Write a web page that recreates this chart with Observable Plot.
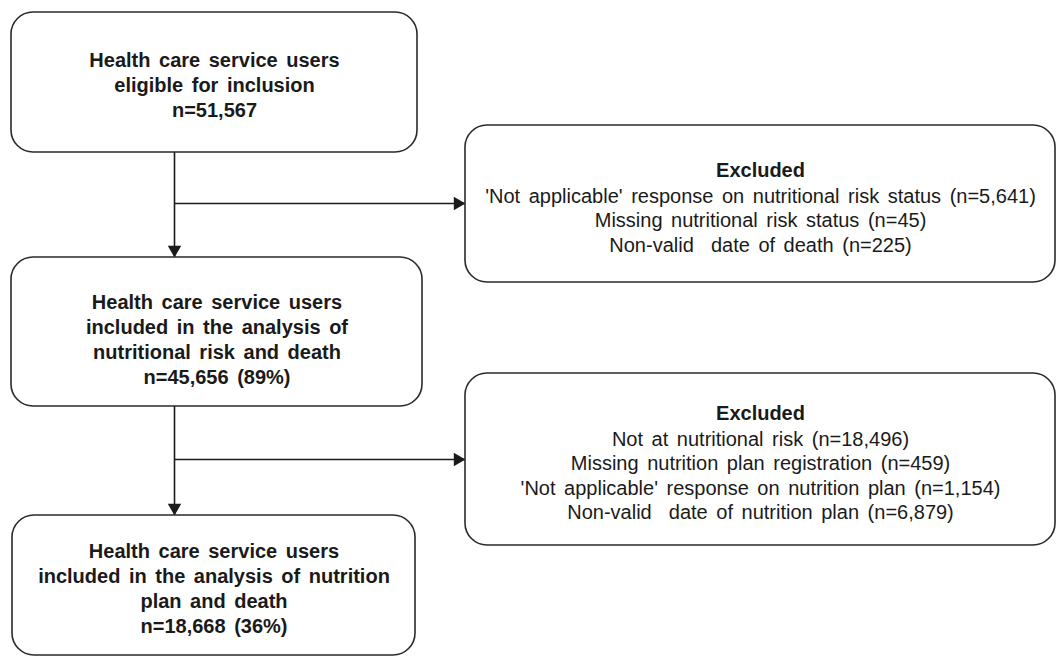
<!DOCTYPE html>
<html>
<head>
<meta charset="utf-8">
<script src="https://cdn.jsdelivr.net/npm/d3@7"></script>
<script src="https://cdn.jsdelivr.net/npm/@observablehq/plot@0.6"></script>
<style>
  html, body { margin: 0; padding: 0; background: #fff; }
  #chart svg text { word-spacing: 3px; white-space: pre; }
</style>
</head>
<body>
<div id="chart"></div>
<script>
// ---------- DATA ----------
const stageLabels = [
  "Health care service users\neligible for inclusion",
  "Health care service users\nincluded in the analysis of\nnutritional risk and death",
  "Health care service users\nincluded in the analysis of nutrition\nplan and death"
];
const stageCounts = [51567, 45656, 18668];
const stagePercents = [null, 89, 36];

const excludedTitle = "Excluded";
const exclusionReasons1 = [
  "'Not applicable' response on nutritional risk status",
  "Missing nutritional risk status",
  "Non-valid  date of death"
];
const exclusionCounts1 = [5641, 45, 225];
const exclusionReasons2 = [
  "Not at nutritional risk",
  "Missing nutrition plan registration",
  "'Not applicable' response on nutrition plan",
  "Non-valid  date of nutrition plan"
];
const exclusionCounts2 = [18496, 459, 1154, 6879];

// ---------- LAYOUT (diagram geometry, pixel space) ----------
const W = 1058, H = 658;
const stageBoxes = [
  {x1: 11, x2: 417, y1: 12, y2: 152, ty: 1},
  {x1: 11, x2: 422, y1: 257, y2: 406, ty: 6},
  {x1: 12, x2: 415, y1: 515, y2: 655, ty: 2}
];
const excludedBoxes = [
  {x1: 465, x2: 1055, y1: 125, y2: 282},
  {x1: 465, x2: 1055, y1: 373, y2: 545}
];
const trunkX = 174;
const branchY = [203, 459];

// ---------- BUILD ----------
const fmt = d3.format(",");
const stageText = stageLabels.map((l, i) =>
  l + "\nn=" + fmt(stageCounts[i]) + (stagePercents[i] != null ? " (" + stagePercents[i] + "%)" : ""));
const stages = stageBoxes.map((b, i) => ({...b, cx: (b.x1 + b.x2) / 2, cy: (b.y1 + b.y2) / 2 + b.ty, text: stageText[i]}));

const reasonsAll = [
  exclusionReasons1.map((r, i) => r + " (n=" + fmt(exclusionCounts1[i]) + ")"),
  exclusionReasons2.map((r, i) => r + " (n=" + fmt(exclusionCounts2[i]) + ")")
];
const LH = 24.5;
const excl = excludedBoxes.map((b, i) => {
  const k = reasonsAll[i].length;
  const n = k + 1;
  const cy = (b.y1 + b.y2) / 2 + 3;
  const first = cy - (n - 1) / 2 * LH;
  return {...b, cx: (b.x1 + b.x2) / 2, titleY: first, bodyY: first + LH + (k - 1) / 2 * LH, body: reasonsAll[i].join("\n")};
});

// connectors
const verticals = [0, 1].map(i => ({x: trunkX, y1: stageBoxes[i].y2, y2: stageBoxes[i + 1].y1}));
const horizontals = [0, 1].map(i => ({y: branchY[i], x1: trunkX + 1, x2: excludedBoxes[i].x1}));
const downHeads = verticals.map(v => ({x: v.x, y: v.y2}));
const rightHeads = horizontals.map(h => ({x: h.x2, y: h.y}));

const font = "Liberation Sans, Arial, Helvetica, sans-serif";
const ink = "#1a1a1a";
const tipOffset = 7.8;

const chart = Plot.plot({
  width: W,
  height: H,
  margin: 0,
  x: {domain: [0, W], range: [0, W], axis: null},
  y: {domain: [0, H], range: [0, H], axis: null},
  style: {background: "#fff"},
  marks: [
    Plot.ruleX(verticals, {x: "x", y1: "y1", y2: "y2", stroke: ink, strokeWidth: 1.6}),
    Plot.ruleY(horizontals, {y: "y", x1: "x1", x2: "x2", stroke: ink, strokeWidth: 1.6}),
    Plot.dot(downHeads, {x: "x", y: "y", symbol: "triangle", r: 5, fill: ink, stroke: "none", rotate: 180, dy: -tipOffset}),
    Plot.dot(rightHeads, {x: "x", y: "y", symbol: "triangle", r: 5, fill: ink, stroke: "none", rotate: 90, dx: -tipOffset}),
    Plot.rect(stages, {x1: "x1", x2: "x2", y1: "y1", y2: "y2", rx: 22, fill: "#fff", stroke: "#2a2a2a", strokeWidth: 1.6}),
    Plot.rect(excl, {x1: "x1", x2: "x2", y1: "y1", y2: "y2", rx: 22, fill: "#fff", stroke: "#2a2a2a", strokeWidth: 1.6}),
    Plot.text(stages, {x: "cx", y: "cy", text: "text", fontSize: 20, fontWeight: "bold", fontFamily: font, fill: ink, lineHeight: 1.25, lineAnchor: "middle", textAnchor: "middle"}),
    Plot.text(excl, {x: "cx", y: "titleY", text: () => excludedTitle, fontSize: 20, fontWeight: "bold", fontFamily: font, fill: ink, textAnchor: "middle", lineAnchor: "middle"}),
    Plot.text(excl, {x: "cx", y: "bodyY", text: "body", fontSize: 20, fontFamily: font, fill: ink, lineHeight: LH / 20, textAnchor: "middle", lineAnchor: "middle"})
  ]
});
document.getElementById("chart").appendChild(chart);
</script>
</body>
</html>
